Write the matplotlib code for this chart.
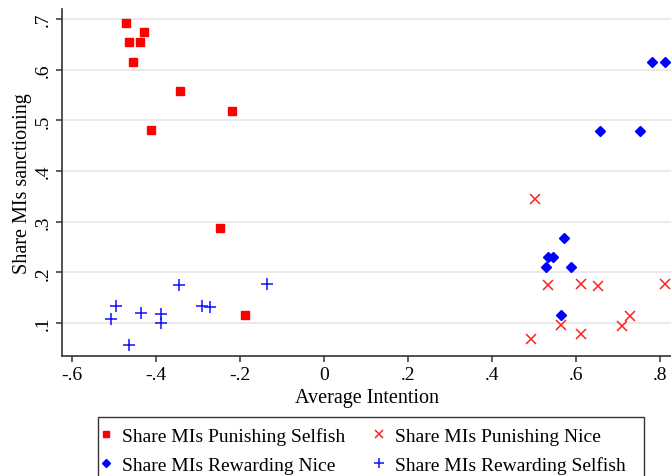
import matplotlib.pyplot as plt
from matplotlib.patches import Rectangle

plt.rcParams['font.family'] = ['Liberation Serif', 'DejaVu Serif']

# Share of MIs sanctioning against average intention, by sanction type
pun_selfish_x = [-0.471, -0.430, -0.464, -0.438, -0.456, -0.343, -0.220, -0.413, -0.247, -0.188]
pun_selfish_y = [0.692, 0.674, 0.654, 0.654, 0.616, 0.558, 0.519, 0.481, 0.288, 0.115]

pun_nice_x = [0.502, 0.534, 0.612, 0.653, 0.811, 0.563, 0.492, 0.612, 0.709, 0.728]
pun_nice_y = [0.345, 0.176, 0.178, 0.174, 0.177, 0.097, 0.068, 0.078, 0.095, 0.113]

rew_nice_x = [0.780, 0.811, 0.657, 0.753, 0.570, 0.534, 0.545, 0.529, 0.587, 0.563]
rew_nice_y = [0.615, 0.615, 0.480, 0.480, 0.268, 0.230, 0.230, 0.211, 0.211, 0.115]

rew_selfish_x = [-0.497, -0.508, -0.465, -0.436, -0.388, -0.388, -0.347, -0.291, -0.272, -0.137]
rew_selfish_y = [0.134, 0.107, 0.057, 0.120, 0.117, 0.101, 0.175, 0.134, 0.132, 0.177]

xticks = [-0.6, -0.4, -0.2, 0, 0.2, 0.4, 0.6, 0.8]
xlabels = ['-.6', '-.4', '-.2', '0', '.2', '.4', '.6', '.8']
yticks = [0.1, 0.2, 0.3, 0.4, 0.5, 0.6, 0.7]
ylabels = ['.1', '.2', '.3', '.4', '.5', '.6', '.7']

W, H = 671, 477
fig = plt.figure(figsize=(W / 100, H / 100), dpi=100)
ax = fig.add_axes([0.0924, 0.2522, 0.9076, 0.727])

h1, = ax.plot(pun_selfish_x, pun_selfish_y, 's', color='#ff0000', ms=5.5, mec='#ff0000', ls='none')
h2, = ax.plot(pun_nice_x, pun_nice_y, 'x', color='#ff2020', ms=7.5, mew=1.1, ls='none')
h3, = ax.plot(rew_nice_x, rew_nice_y, 'D', color='#0000ff', ms=5.5, ls='none')
h4, = ax.plot(rew_selfish_x, rew_selfish_y, '+', color='#1010ff', ms=8.5, mew=1.1, ls='none')

ax.set_xlim(-0.6245, 0.826)
ax.set_ylim(0.0355, 0.72)
ax.set_xticks(xticks)
ax.set_xticklabels(xlabels)
ax.set_yticks(yticks)
ax.set_yticklabels(ylabels, rotation=90, va='center')

ax.grid(axis='y', color='#e6e6e6', lw=1.2)
ax.set_axisbelow(True)
for side in ('top', 'right'):
    ax.spines[side].set_visible(False)
for side in ('left', 'bottom'):
    ax.spines[side].set_color('#333333')
    ax.spines[side].set_linewidth(1.2)
ax.tick_params(colors='#333333', labelcolor='black', labelsize=14, length=4.5, width=1.1, pad=3)

ax.set_xlabel('Average Intention', fontsize=14.5, labelpad=3.5)
ax.set_ylabel('Share MIs sanctioning', fontsize=14.5, labelpad=2)

# legend box runs off the bottom edge
fig.add_artist(Rectangle((98 / W, -0.05), (644 - 98) / W, 0.05 + 1 - 417.5 / H,
                         transform=fig.transFigure, fill=False,
                         edgecolor='#333333', lw=1.0))

leg = fig.legend([h1, h3, h2, h4],
                 ['Share MIs Punishing Selfish', 'Share MIs Rewarding Nice',
                  'Share MIs Punishing Nice', 'Share MIs Rewarding Selfish'],
                 ncol=2, loc='upper left', bbox_to_anchor=(101 / W, 1 - 428 / H),
                 fontsize=14, frameon=False,
                 handletextpad=0.58, columnspacing=1.47, handlelength=0.5,
                 borderpad=0, labelspacing=0.58, markerscale=0.8,
                 borderaxespad=0)

fig.savefig('out.png', dpi=100)
